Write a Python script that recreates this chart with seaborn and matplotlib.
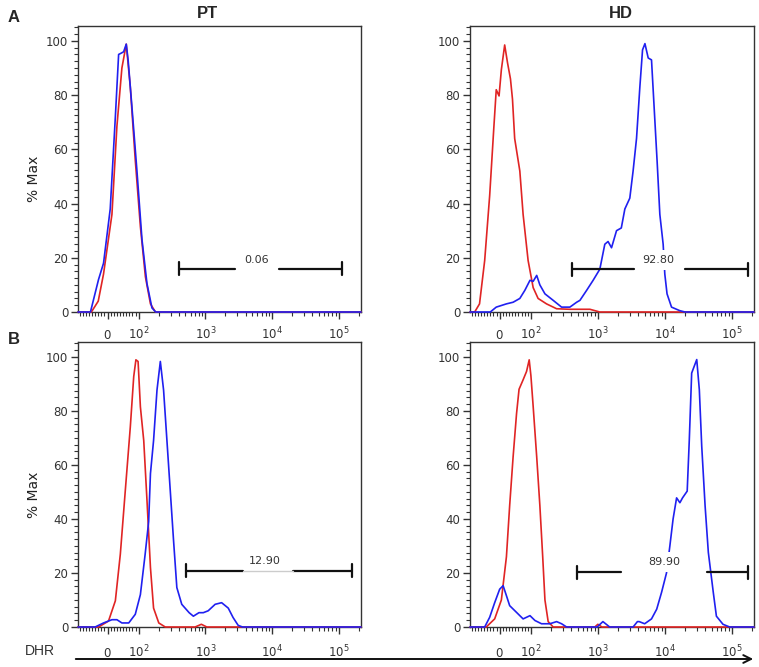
import numpy as np
import matplotlib.pyplot as plt
import matplotlib.patches as mpatches
import matplotlib.ticker as mticker
import seaborn as sns

# ── data: DHR histograms (% of max), red = unstimulated, blue = stimulated ──
X_LIM = (-95, 2.15e5)

a_pt_red_x = [-95, -52, -30, -13, 14, 30, 46, 60, 73, 89, 106, 126, 150, 178, 2.15e5]
a_pt_red_y = [0, 0, 4, 14, 36, 68.5, 90, 98.8, 83, 56, 31.5, 13, 3, 0, 0]
a_pt_blue_x = [-95, -55, -29, -13, 8.5, 25, 35.5, 44, 51.6, 60, 66, 78, 94, 112, 133,
               158, 180, 2.15e5]
a_pt_blue_y = [0, 0, 12, 18, 38, 72, 95, 95.5, 96, 98.8, 93, 76, 52.6, 26.7, 10.5,
               1.5, 0, 0]

a_hd_red_x = [-95, -80, -64.5, -48, -32, -19, -11, -2, 5.4, 16, 25, 34.5, 41, 48, 64.5,
              75, 91, 108, 128, 171, 242, 382, 760, 1070, 2.15e5]
a_hd_red_y = [0, 0, 3, 19, 43, 67.5, 82, 79.7, 89.4, 98.5, 92, 86, 78.5, 64, 52,
              36, 19, 9, 5, 3, 1.2, 1, 1, 0, 0]
a_hd_blue_x = [-95, -30, -11, 21.6, 43, 64.5, 80.6, 97, 108, 122, 136, 162, 215, 287,
               382, 482, 540, 680, 850, 1070, 1270, 1420, 1600, 1900, 2240, 2530,
               3000, 3360, 3780, 4240, 4650, 5050, 5650, 6330, 6700, 7700, 8430,
               9450, 10000, 10800, 12600, 16700, 20000, 2.15e5]
a_hd_blue_y = [0, 0, 1.8, 3, 3.6, 5, 8, 11.7, 11.3, 13.5, 10, 6.7, 4.3, 1.8,
               1.8, 3.6, 4.3, 8, 11.7, 15.8, 25, 26, 23.7, 30, 31, 38,
               42, 52, 64, 83, 96.7, 99, 93.7, 93, 82, 55, 36,
               25, 14, 6.7, 1.8, 0.5, 0, 0]

b_pt_red_x = [-95, -29, 3, 25, 41, 57, 73, 84, 91, 98, 106, 119, 133, 150, 167, 200,
              250, 700, 870, 1050, 2.15e5]
b_pt_red_y = [0, 0, 2.2, 9.7, 27, 50.6, 74, 92.7, 98.9, 98.3, 81.5, 69, 47, 22, 7, 1.5,
              0, 0, 1, 0, 0]
b_pt_blue_x = [-95, -40, -13, 14, 30, 46, 68, 89, 106, 125, 141, 150, 167, 188, 211,
               236, 265, 297, 333, 373, 442, 570, 660, 800, 930, 1100, 1400, 1750,
               2200, 2600, 3100, 3600, 2.15e5]
b_pt_blue_y = [0, 0, 1.5, 2.7, 2.7, 1.5, 1.5, 4.7, 12, 27, 39, 56.8, 69, 87.7, 98.3,
               87.7, 69, 50.6, 32, 14.6, 8.4, 5.3, 4, 5.3, 5.3, 6, 8.4, 9,
               7, 3.5, 0.6, 0, 0]

b_hd_red_x = [-95, -43, -16, 5.4, 21.6, 32, 43, 54, 62, 75, 86, 94.5, 100, 108, 122,
              136, 150, 162, 181, 215, 900, 1000, 1150, 2.15e5]
b_hd_red_y = [0, 0, 3, 10, 26, 45, 63, 79, 88, 91.5, 94.6, 98.9, 93, 81.7, 63,
              45, 26, 10, 2, 0, 0, 1, 0, 0]
b_hd_blue_x = [-95, -48, -32, -16, 0, 11, 21.6, 32, 54, 75, 97, 115, 144, 192, 242,
               287, 341, 975, 1190, 1500, 3360, 3900, 4140, 5000, 6330, 7570, 8940,
               10600, 11900, 13300, 15000, 16800, 18400, 21600, 23200, 25200, 30000,
               32800, 35600, 40000, 44700, 53000, 59000, 74000, 93000, 2.15e5]
b_hd_blue_y = [0, 0, 3.6, 9, 14, 15.3, 11.6, 7.9, 5.4, 3, 4.2, 2.4, 1.2, 1.2, 2,
               1.2, 0, 0, 2, 0, 0, 2, 2, 1.2, 3, 6.6, 12.8,
               20, 30, 40, 47.8, 46, 47.8, 50.3, 69, 94, 99,
               87.8, 67, 44.8, 27.6, 12.8, 4, 1, 0, 0]

# marker gates: (start, end, height, gap start, gap end, label, label x, label y)
gate_labels = ["0.06", "92.80", "12.90", "89.90"]
gate_lo = [395, 410, 520, 486]
gate_hi = [111000, 174000, 156000, 174000]
gate_y = [16, 15.7, 20.8, 20.3]
gate_gap_lo = [2800, 3440, 3690, 2200]
gate_gap_hi = [12700, 20000, 20600, 42300]
gate_text_x = [5800, 8100, 7870, 9660]
gate_text_y = [19.3, 19, 24.5, 24]

XTICKS = [0, 100, 1000, 10000, 100000]
XTICK_LABELS = [r"$0$", r"$10^2$", r"$10^3$", r"$10^4$", r"$10^5$"]

RED = "#e02424"
BLUE = "#2020f0"

# ── style ───────────────────────────────────────────────────────────────────
sns.set_style("ticks")
plt.rcParams.update({
    "font.family": ["DejaVu Sans"],
    "mathtext.fontset": "dejavusans",
    "xtick.labelsize": 8.5,
    "ytick.labelsize": 8.5,
    "xtick.color": "#333333",
    "ytick.color": "#333333",
    "axes.edgecolor": "#333333",
    "axes.linewidth": 1.0,
})

W, H = 759, 667
fig = plt.figure(figsize=(W / 100, H / 100), dpi=100)


def px_axes(x0, y0, x1, y1):
    return fig.add_axes([x0 / W, 1 - y1 / H, (x1 - x0) / W, (y1 - y0) / H])


def fig_text(x, y, s, **kw):
    fig.text(x / W, 1 - y / H, s, **kw)


minor_x = ([-v for v in range(10, 100, 10)] + list(range(10, 100, 10))
           + [m * 10 ** k for k in (2, 3, 4) for m in range(2, 10)] + [2e5])

panels = [
    (px_axes(78, 26, 361, 312), a_pt_red_x, a_pt_red_y, a_pt_blue_x, a_pt_blue_y),
    (px_axes(470, 26, 754, 312), a_hd_red_x, a_hd_red_y, a_hd_blue_x, a_hd_blue_y),
    (px_axes(78, 342, 361, 627), b_pt_red_x, b_pt_red_y, b_pt_blue_x, b_pt_blue_y),
    (px_axes(470, 342, 754, 627), b_hd_red_x, b_hd_red_y, b_hd_blue_x, b_hd_blue_y),
]
label_pad = [14.5, 14.5, 16.5, 16.5]

for i, (ax, rx, ry, bx, by) in enumerate(panels):
    ax.set_xscale("symlog", linthresh=100, linscale=0.42)
    sns.lineplot(x=rx, y=ry, ax=ax, color=RED, lw=1.2, estimator=None, sort=False,
                 zorder=3, clip_on=False)
    sns.lineplot(x=bx, y=by, ax=ax, color=BLUE, lw=1.2, estimator=None, sort=False,
                 zorder=3, clip_on=False)

    # gate marker
    lo, hi, gy = gate_lo[i], gate_hi[i], gate_y[i]
    ax.plot([lo, gate_gap_lo[i]], [gy, gy], color="#111111", lw=1.6, zorder=4)
    ax.plot([gate_gap_hi[i], hi], [gy, gy], color="#111111", lw=1.6, zorder=4)
    for xc in (lo, hi):
        ax.plot([xc, xc], [gy - 2.4, gy + 2.4], color="#111111", lw=1.6, zorder=4)
    ax.text(gate_text_x[i], gate_text_y[i], gate_labels[i], ha="center", va="center",
            fontsize=8, color="#333333", zorder=5,
            bbox=dict(fc="white", ec="none", boxstyle="square,pad=0.45"))
    if i == 2:
        ax.plot([gate_gap_lo[i], gate_gap_hi[i]], [gy, gy], color="#cccccc", lw=1, zorder=6)

    ax.set_xlim(*X_LIM)
    ax.set_ylim(0, 105.5)
    ax.set_xticks(XTICKS)
    ax.set_xticklabels(XTICK_LABELS)
    ax.xaxis.set_minor_locator(mticker.FixedLocator(minor_x))
    ax.set_yticks([0, 20, 40, 60, 80, 100])
    ax.yaxis.set_minor_locator(mticker.MultipleLocator(2.5))
    ax.tick_params(which="major", length=5, width=1, pad=2)
    ax.tick_params(which="minor", length=3, width=0.8)
    ax.tick_params(axis="x", which="major", pad=label_pad[i])
    for t in ax.get_xticklabels():
        t.set_verticalalignment("baseline")
    for s in ax.spines.values():
        s.set_visible(True)
    ax.set_xlabel("")
    ax.set_ylabel("")

# column titles, panel letters, axis labels
fig_text(207, 13, "PT", ha="center", va="center", fontsize=12, fontweight="bold",
         family=["Liberation Sans"])
fig_text(621, 13, "HD", ha="center", va="center", fontsize=12, fontweight="bold",
         family=["Liberation Sans"])
fig_text(14, 18, "A", ha="center", va="center", fontsize=12, fontweight="bold",
         family=["Liberation Sans"])
fig_text(14, 340, "B", ha="center", va="center", fontsize=12, fontweight="bold",
         family=["Liberation Sans"])
fig_text(34, 179, "% Max", ha="center", va="center", rotation=90, fontsize=10,
         color="#222222")
fig_text(34, 495, "% Max", ha="center", va="center", rotation=90, fontsize=10,
         color="#222222")
fig_text(40, 651, "DHR", ha="center", va="center", fontsize=10, color="#333333",
         family=["Liberation Sans"])

fig.add_artist(mpatches.FancyArrowPatch((73 / W, 1 - 659 / H), (756 / W, 1 - 659 / H),
                                        transform=fig.transFigure, arrowstyle="->",
                                        mutation_scale=14, lw=1.4, color="#111111"))

fig.savefig("out.png", dpi=100)
